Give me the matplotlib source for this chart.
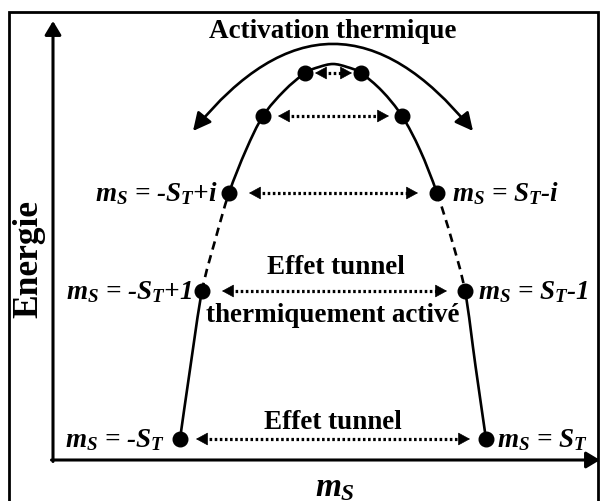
import matplotlib
matplotlib.use("Agg")
import matplotlib.pyplot as plt
from matplotlib.patches import FancyArrowPatch, Rectangle, PathPatch
from matplotlib.path import Path

plt.rcParams['font.family'] = ['Liberation Serif', 'DejaVu Serif']
plt.rcParams['mathtext.fontset'] = 'custom'
plt.rcParams['mathtext.it'] = 'Liberation Serif:italic:bold'
plt.rcParams['mathtext.rm'] = 'Liberation Serif:bold'
plt.rcParams['mathtext.bf'] = 'Liberation Serif:bold'

# ---- data (diagram coordinates: x = m_S position, y = energy) ----
level_E = [21, 169, 267, 344, 387]
level_m_left = [127, 149, 176, 210, 252]
level_m_right = [433, 412, 384, 349, 308]

# arrow tips of the dotted transitions between paired levels
arrow_left = [143, 169, 196, 225, 262]
arrow_right = [417, 394, 365, 336, 299]

# curve read along the energy barrier (left half bottom->top, right half top->bottom)
curve_left_m = [127, 137.5, 149, 162.5, 176, 193, 210, 231, 252, 266, 280]
curve_left_E = [21, 94, 169, 221, 267, 310, 344, 369, 387, 393, 396]
curve_right_m = [280, 294, 308, 329, 349, 367, 384, 398.5, 412, 422.5, 433]
curve_right_E = [396, 393, 387, 369, 344, 310, 267, 221, 169, 94, 21]

labels_left = [r"$m_S$ = -$S_T$", r"$m_S$ = -$S_T$+1", r"$m_S$ = -$S_T$+$i$"]
labels_left_x = [112, 139, 165]
labels_right = [r"$m_S$ = $S_T$", r"$m_S$ = $S_T$-1", r"$m_S$ = $S_T$-$i$"]
labels_right_x = [444, 425, 399]

fig = plt.figure(figsize=(6.01, 5.02), dpi=100)
ax = fig.add_axes([0, 0, 1, 1])
ax.set_xlim(-53, 548)
ax.set_ylim(-41, 461)
ax.axis('off')

lw = 1.9
# outer frame
ax.add_patch(Rectangle((-44, -60), 589, 508.3, fill=False, lw=2.0, ec='black'))

# axes with arrows
akw = dict(arrowstyle='-|>,head_length=0.55,head_width=0.33', mutation_scale=15,
           lw=2.2, color='black', shrinkA=0, shrinkB=0)
ax.annotate('', xy=(0, 439), xytext=(0, -1.5), arrowprops=akw)
ax.annotate('', xy=(547, 0), xytext=(-1.5, 0), arrowprops=akw)

# barrier curve drawn as a smooth spline path through the read points
cm = curve_left_m + curve_right_m[1:]
ce = curve_left_E + curve_right_E[1:]
n = len(cm)


def seg_path(i0, i1):
    verts = [(cm[i0], ce[i0])]
    codes = [Path.MOVETO]
    for i in range(i0, i1):
        p0 = max(i - 1, 0)
        p3 = min(i + 2, n - 1)
        c1 = (cm[i] + (cm[i + 1] - cm[p0]) / 6, ce[i] + (ce[i + 1] - ce[p0]) / 6)
        c2 = (cm[i + 1] - (cm[p3] - cm[i]) / 6, ce[i + 1] - (ce[p3] - ce[i]) / 6)
        verts += [c1, c2, (cm[i + 1], ce[i + 1])]
        codes += [Path.CURVE4] * 3
    return Path(verts, codes)


segments = [(0, 2, '-'), (2, 4, (0, (3.2, 2.2))), (4, 16, '-'),
            (16, 18, (0, (3.2, 2.2))), (18, 20, '-')]
for i0, i1, ls in segments:
    ax.add_patch(PathPatch(seg_path(i0, i1), fill=False, lw=lw, ls=ls,
                           ec='black', capstyle='butt'))

# level dots
ax.plot(level_m_left, level_E, 'o', color='black', ms=10.5, zorder=5)
ax.plot(level_m_right, level_E, 'o', color='black', ms=10.5, zorder=5)

# dotted double arrows
hl = 8
for xl, xr, e in zip(arrow_left, arrow_right, level_E):
    ax.plot([xl + hl, xr - hl], [e, e], color='black', lw=2.3, ls=(0, (0.8, 0.8)),
            dash_capstyle='butt')
    for tip, back in ((xl, xl + hl), (xr, xr - hl)):
        ax.annotate('', xy=(tip, e), xytext=(back, e),
                    arrowprops=dict(arrowstyle='-|>,head_length=0.55,head_width=0.3',
                                    mutation_scale=14, lw=0.5, color='black',
                                    shrinkA=0, shrinkB=0))

# thermal activation arc
arc = FancyArrowPatch((140, 329), (420, 329), connectionstyle='arc3,rad=-0.614',
                      arrowstyle='<|-|>,head_length=0.6,head_width=0.3',
                      mutation_scale=18, lw=lw, color='black',
                      shrinkA=0, shrinkB=0)
ax.add_patch(arc)

# texts
tkw = dict(fontsize=19.5, fontweight='bold', ha='center', va='center')
ax.text(280, 430, 'Activation thermique', **tkw)
ax.text(283, 193, 'Effet tunnel', **tkw)
ax.text(280, 145, 'thermiquement activé', **tkw)
ax.text(280, 38, 'Effet tunnel', **tkw)

ax.text(-24, 202, 'Energie', fontsize=25.5, fontweight='bold', rotation=90,
        ha='center', va='center')
ax.text(282, -27, r'$m_S$', fontsize=24, ha='center', va='center')

lkw = dict(fontsize=19.5, fontweight='bold', fontstyle='italic', va='center')
for lab, x, e in zip(labels_left, labels_left_x, level_E[:3]):
    ax.text(x, e, lab, ha='right', **lkw)
for lab, x, e in zip(labels_right, labels_right_x, level_E[:3]):
    ax.text(x, e, lab, ha='left', **lkw)

fig.savefig('out.png', dpi=100)
